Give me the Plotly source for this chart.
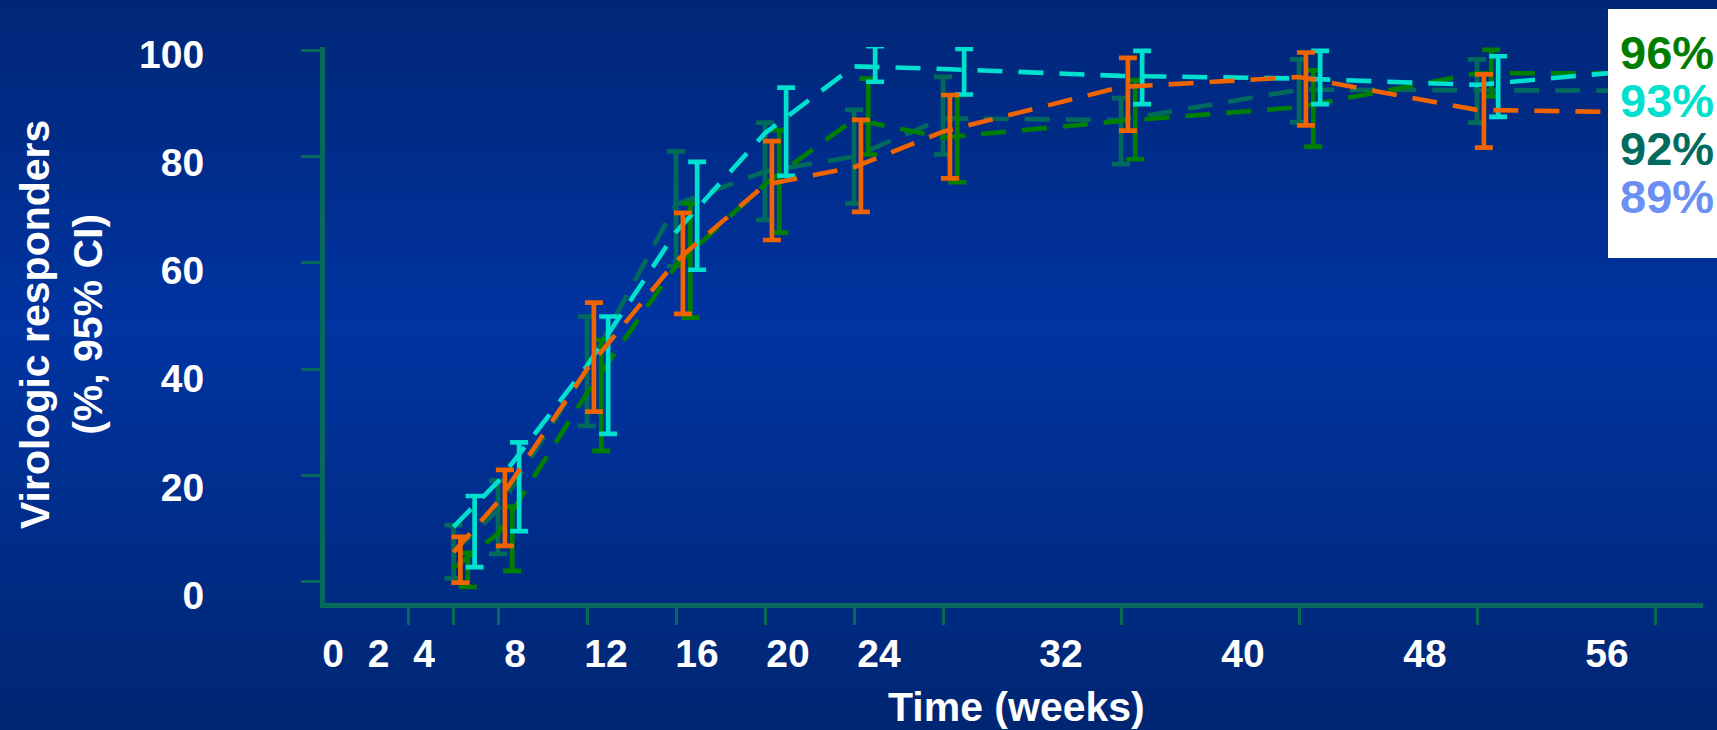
import plotly.graph_objects as go

# ---- data -------------------------------------------------------------
weeks = [2, 4, 8, 12, 16, 20, 24, 32, 40, 48, 56]
week_ticks = [0, 2, 4, 8, 12, 16, 20, 24, 32, 40, 48, 56]
week_tick_text = ["0", "2", "4", "8", "12", "16", "20", "24", "32", "40", "48", "56"]
pct_ticks = [0, 20, 40, 60, 80, 100]
pct_tick_text = ["0", "20", "40", "60", "80", "100"]

# responders (%) at each visit; 95% CI bounds for weeks 2-48
teal_pct = [5.5, 13.5, 40.0, 71.0, 77.2, 80.0, 87.2, 86.9, 92.6, 92.4, 92.4]
teal_lo = [0.6, 5.2, 29.3, 59.4, 68.1, 71.2, 80.4, 78.6, 86.5, 86.4]
teal_hi = [10.6, 19.0, 49.9, 81.0, 86.4, 88.8, 95.0, 91.0, 98.3, 98.3]

green_pct = [2.5, 9.0, 35.5, 59.5, 74.8, 87.0, 83.6, 86.7, 89.3, 95.7, 95.7]
green_lo = [-1.0, 2.0, 24.6, 49.7, 65.7, 80.4, 75.2, 79.5, 81.9, 91.4]
green_hi = [5.4, 14.1, 45.5, 71.2, 85.0, 94.7, 91.6, 94.4, 96.3, 100.1]

cyan_pct = [10.3, 18.8, 40.6, 65.8, 84.4, 97.0, 96.5, 95.2, 94.7, 93.5, 96.5]
cyan_lo = [2.7, 9.5, 27.8, 58.7, 76.4, 94.1, 91.7, 89.9, 89.9, 87.5]
cyan_hi = [16.1, 26.2, 49.9, 79.0, 93.0, 100.8, 100.3, 99.9, 99.9, 98.9]

orange_pct = [5.5, 15.0, 40.0, 60.3, 74.7, 78.0, 84.7, 93.1, 95.0, 88.8, 88.3]
orange_lo = [-0.2, 6.7, 32.0, 50.4, 64.3, 69.6, 75.9, 84.9, 85.9, 81.7]
orange_hi = [8.4, 21.0, 52.5, 69.4, 82.9, 86.9, 91.6, 98.6, 99.6, 95.5]

final_labels = ["96%", "93%", "92%", "89%"]

# ---- styling ----------------------------------------------------------
AXIS = "#07695b"
FONT = "Liberation Sans, Arial, sans-serif"
W, H = 1717, 730
L, R, T, B = 325, 14, 47, 127
PW, PH = W - L - R, H - T - B

series = [
    dict(pct=teal_pct, lo=teal_lo, hi=teal_hi, color="#006a5c", shift=0.0),
    dict(pct=green_pct, lo=green_lo, hi=green_hi, color="#007f00", shift=0.64),
    dict(pct=cyan_pct, lo=cyan_lo, hi=cyan_hi, color="#00e0cf", shift=0.95),
    dict(pct=orange_pct, lo=orange_lo, hi=orange_hi, color="#f06400", shift=0.31),
]
label_colors = ["#007d00", "#00e0cc", "#006b5e", "#6b8ff2"]

fig = go.Figure()
for s in series:
    fig.add_trace(go.Scatter(
        x=weeks, y=s["pct"], mode="lines",
        line=dict(color=s["color"], width=4.6, dash="25px,16px"),
        hoverinfo="skip", showlegend=False,
    ))
    n = len(s["lo"])
    fig.add_trace(go.Scatter(
        x=[w + s["shift"] for w in weeks[:n]], y=s["pct"][:n], mode="markers",
        marker=dict(size=1, opacity=0),
        error_y=dict(
            type="data", symmetric=False,
            array=[h - p for h, p in zip(s["hi"], s["pct"])],
            arrayminus=[p - l for p, l in zip(s["pct"], s["lo"])],
            color=s["color"], thickness=4.7, width=9,
        ),
        hoverinfo="skip", showlegend=False, cliponaxis=False,
    ))

# carrier for the label axes
fig.add_trace(go.Scatter(x=[None], y=[None], xaxis="x2", yaxis="y2",
                         showlegend=False, hoverinfo="skip"))


def px_x(px):
    return (px - L) / PW


def px_y(py):
    return (H - B - py) / PH


# navy vertical gradient behind everything
stops = [(0.0, (0x00, 0x26, 0x76)), (0.45, (0x00, 0x34, 0xa2)), (1.0, (0x00, 0x26, 0x72))]


def grad(t):
    for (t0, c0), (t1, c1) in zip(stops[:-1], stops[1:]):
        if t0 <= t <= t1:
            f = (t - t0) / (t1 - t0)
            return "rgb(%d,%d,%d)" % tuple(round(a + (b - a) * f) for a, b in zip(c0, c1))
    return "rgb(%d,%d,%d)" % stops[-1][1]


shapes = []
band = 10
for top in range(0, H, band):
    shapes.append(dict(
        type="rect", xref="paper", yref="paper", layer="below",
        x0=px_x(-2), x1=px_x(W + 2), y0=px_y(top + band + 1), y1=px_y(top),
        fillcolor=grad((top + band / 2) / H), line=dict(width=0),
    ))
# white box for the end-of-study rates
shapes.append(dict(
    type="rect", xref="paper", yref="paper", layer="above",
    x0=px_x(1608), x1=px_x(W + 2), y0=px_y(258), y1=px_y(9),
    fillcolor="white", line=dict(width=0),
))

annotations = [
    dict(text="<b>Virologic responders<br>(%, 95% CI)</b>", xref="paper", yref="paper",
         x=px_x(61), y=px_y(325), textangle=-90, showarrow=False,
         xanchor="center", yanchor="middle", font=dict(family=FONT, size=41, color="white")),
    dict(text="<b>Time (weeks)</b>", xref="paper", yref="paper",
         x=px_x(1016), y=px_y(707), showarrow=False,
         xanchor="center", yanchor="middle", font=dict(family=FONT, size=41, color="white")),
]

# stacked end-of-study rates: one text block, line pitch set by the base size
rate_lines = "<br>".join(
    "<span style='color:%s;font-size:47px'><b>%s</b></span>" % (col, txt)
    for txt, col in zip(final_labels, label_colors)
)
annotations.append(dict(
    text=rate_lines, xref="paper", yref="paper", x=px_x(1667), y=px_y(124),
    showarrow=False, xanchor="center", yanchor="middle", align="center",
    font=dict(family=FONT, size=37, color="#007d00"),
))

tickfont = dict(family=FONT, size=39, color="white", weight="bold")

fig.update_layout(
    width=W, height=H,
    margin=dict(l=L, r=R, t=T, b=B, pad=0),
    paper_bgcolor="#002f92", plot_bgcolor="rgba(0,0,0,0)",
    showlegend=False,
    xaxis=dict(
        range=[-3.775, 58.157], tickvals=week_ticks, showticklabels=False,
        ticks="outside", ticklen=17, tickwidth=3, tickcolor=AXIS,
        showline=True, linecolor=AXIS, linewidth=5,
        showgrid=False, zeroline=False,
    ),
    yaxis=dict(
        range=[-4.05, 100.64], tickvals=pct_ticks, showticklabels=False,
        ticks="outside", ticklen=19, tickwidth=3, tickcolor=AXIS,
        showline=True, linecolor=AXIS, linewidth=5,
        showgrid=False, zeroline=False,
    ),
    xaxis2=dict(
        overlaying="x", anchor="y2", side="bottom",
        range=[-0.352, 60.22], tickvals=week_ticks, ticktext=week_tick_text,
        ticks="outside", ticklen=16, tickcolor="rgba(0,0,0,0)", tickfont=tickfont,
        showline=False, showgrid=False, zeroline=False,
    ),
    yaxis2=dict(
        overlaying="y", anchor="x2", side="left",
        range=[-1.48, 101.39], tickvals=pct_ticks, ticktext=pct_tick_text,
        ticks="outside", ticklen=112, tickcolor="rgba(0,0,0,0)", tickfont=tickfont,
        showline=False, showgrid=False, zeroline=False,
    ),
    shapes=shapes,
    annotations=annotations,
)

fig.write_html("out.html")
